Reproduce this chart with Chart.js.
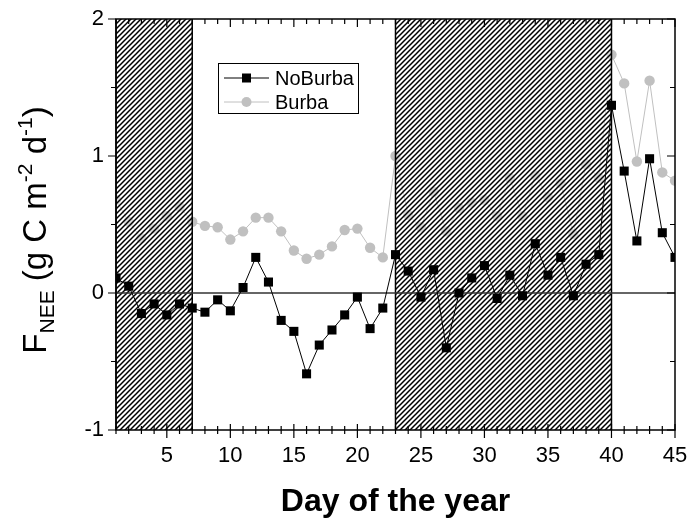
<!DOCTYPE html>
<html>
<head>
<meta charset="utf-8">
<script src="https://cdn.jsdelivr.net/npm/chart.js@4"></script>
<style>
  html,body{margin:0;padding:0;background:#fff;}
  #wrap{width:692px;height:519px;}
</style>
</head>
<body>
<div id="wrap"><canvas id="chart" width="692" height="519"></canvas></div>
<script>
const days = [1,2,3,4,5,6,7,8,9,10,11,12,13,14,15,16,17,18,19,20,21,22,23,24,25,26,27,28,29,30,31,32,33,34,35,36,37,38,39,40,41,42,43,44,45];
const noBurba = [0.11,0.05,-0.15,-0.08,-0.16,-0.08,-0.11,-0.14,-0.05,-0.13,
  0.04,0.26,0.08,-0.20,-0.28,-0.59,-0.38,-0.27,-0.16,-0.03,
  -0.26,-0.11,0.28,0.16,-0.03,0.17,-0.40,0.00,0.11,0.20,
  -0.04,0.13,-0.02,0.36,0.13,0.26,-0.02,0.21,0.28,1.37,
  0.89,0.38,0.98,0.44,0.26];
const burba = [0.68,0.52,0.40,0.47,0.56,0.63,0.52,0.49,0.48,0.39,
  0.45,0.55,0.55,0.45,0.31,0.25,0.28,0.34,0.46,0.47,
  0.33,0.26,1.00,0.57,0.48,0.74,0.45,0.62,0.66,0.68,
  0.56,0.84,0.56,0.86,0.70,0.80,0.43,0.94,0.84,1.74,
  1.53,0.96,1.55,0.88,0.82];
const xTicks = [5,10,15,20,25,30,35,40,45];
const yTicks = [-1,0,1,2];
const shadeFrom = [1,23];
const shadeTo = [7,40];

const FONT = "Arial, 'Liberation Sans', sans-serif";

// diagonal hatch pattern
function makeHatch(ctx){
  const s = 5;
  const c = document.createElement('canvas');
  c.width = s; c.height = s;
  const g = c.getContext('2d');
  g.fillStyle = 'rgba(255,255,255,0.4)';
  g.fillRect(0,0,s,s);
  g.strokeStyle = '#000';
  g.lineWidth = 1.5;
  g.beginPath();
  g.moveTo(-1, s+1); g.lineTo(s+1, -1);
  g.moveTo(-1, 1); g.lineTo(1, -1);
  g.moveTo(s-1, s+1); g.lineTo(s+1, s-1);
  g.stroke();
  return ctx.createPattern(c, 'repeat');
}

const decor = {
  id: 'decor',
  beforeDatasetDraw(chart, args){
    if(args.index !== 0) return;
    const {ctx, chartArea: a, scales: {x, y}} = chart;
    ctx.save();
    const pat = makeHatch(ctx);
    shadeFrom.forEach((f, i) => {
      const x0 = x.getPixelForValue(f), x1 = x.getPixelForValue(shadeTo[i]);
      ctx.fillStyle = pat;
      ctx.fillRect(x0, a.top, x1 - x0, a.bottom - a.top);
      ctx.strokeStyle = '#000';
      ctx.lineWidth = 1.5;
      ctx.beginPath();
      ctx.moveTo(x0, a.top); ctx.lineTo(x0, a.bottom);
      ctx.moveTo(x1, a.top); ctx.lineTo(x1, a.bottom);
      ctx.stroke();
    });
    const y0 = y.getPixelForValue(0);
    ctx.strokeStyle = '#333';
    ctx.lineWidth = 1.5;
    ctx.beginPath();
    ctx.moveTo(a.left, y0); ctx.lineTo(a.right, y0);
    ctx.stroke();
    ctx.restore();
  },
  afterDraw(chart){
    const {ctx, chartArea: a, scales: {x, y}} = chart;
    ctx.save();
    ctx.strokeStyle = '#000';
    ctx.lineWidth = 1.5;
    ctx.strokeRect(a.left, a.top, a.right - a.left, a.bottom - a.top);

    // x ticks (bottom crossing, top inward)
    ctx.lineWidth = 1.2;
    ctx.beginPath();
    for(let d = 1; d <= 45; d++){
      const px = x.getPixelForValue(d);
      const major = d % 5 === 0;
      ctx.moveTo(px, a.bottom - (major ? 6 : 4));
      ctx.lineTo(px, a.bottom + (major ? 8 : 4));
      ctx.moveTo(px, a.top);
      ctx.lineTo(px, a.top + (major ? 8 : 5));
    }
    // y ticks (left outward, right inward)
    for(let v = -1; v <= 2.001; v += 0.5){
      const py = y.getPixelForValue(v);
      const major = Math.abs(v - Math.round(v)) < 1e-6;
      ctx.moveTo(a.left - (major ? 8 : 5), py);
      ctx.lineTo(a.left, py);
      ctx.moveTo(a.right, py);
      ctx.lineTo(a.right - (major ? 8 : 5), py);
    }
    ctx.stroke();

    // legend
    const lx = 218, ly = 63, lw = 140, lh = 50;
    ctx.fillStyle = '#fff';
    ctx.fillRect(lx, ly, lw, lh);
    ctx.lineWidth = 1;
    ctx.strokeStyle = '#000';
    ctx.strokeRect(lx + 0.5, ly + 0.5, lw, lh);
    const rows = [
      {label: 'NoBurba', color: '#000', y: 78, rect: true},
      {label: 'Burba', color: '#c0c0c0', y: 102, rect: false}
    ];
    rows.forEach(r => {
      ctx.strokeStyle = r.color;
      ctx.lineWidth = 1;
      ctx.beginPath();
      ctx.moveTo(224, r.y); ctx.lineTo(269, r.y);
      ctx.stroke();
      ctx.fillStyle = r.color;
      if(r.rect) ctx.fillRect(242, r.y - 4.5, 9, 9);
      else { ctx.beginPath(); ctx.arc(246.5, r.y, 5, 0, Math.PI*2); ctx.fill(); }
      ctx.fillStyle = '#000';
      ctx.font = '20px ' + FONT;
      ctx.textBaseline = 'middle';
      ctx.textAlign = 'left';
      ctx.fillText(r.label, 275, r.y + 1);
    });

    // x title
    ctx.fillStyle = '#000';
    ctx.font = 'bold 32px ' + FONT;
    ctx.textAlign = 'center';
    ctx.textBaseline = 'alphabetic';
    ctx.fillText('Day of the year', (a.left + a.right) / 2, 511);

    // y title with sub/superscripts
    const parts = [
      {t: 'F', s: 33, dy: 0},
      {t: 'NEE', s: 21, dy: 8},
      {t: ' (g C m', s: 33, dy: 0},
      {t: '-2', s: 21, dy: -14},
      {t: ' d', s: 33, dy: 0},
      {t: '-1', s: 21, dy: -14},
      {t: ')', s: 33, dy: 0}
    ];
    let total = 0;
    parts.forEach(p => { ctx.font = p.s + 'px ' + FONT; p.w = ctx.measureText(p.t).width; total += p.w; });
    ctx.translate(46, 230);
    ctx.rotate(-Math.PI / 2);
    ctx.textAlign = 'left';
    let cx = -total / 2;
    parts.forEach(p => {
      ctx.font = p.s + 'px ' + FONT;
      ctx.fillText(p.t, cx, p.dy);
      cx += p.w;
    });
    ctx.restore();
  }
};

new Chart(document.getElementById('chart'), {
  type: 'scatter',
  data: {
    datasets: [
      {
        label: 'NoBurba',
        data: days.map((d, i) => ({x: d, y: noBurba[i]})),
        showLine: true,
        borderColor: '#000',
        backgroundColor: '#000',
        borderWidth: 1,
        pointStyle: 'rect',
        pointRadius: 6.4,
        pointBorderWidth: 0
      },
      {
        label: 'Burba',
        data: days.map((d, i) => ({x: d, y: burba[i]})),
        showLine: true,
        borderColor: '#c0c0c0',
        backgroundColor: '#c0c0c0',
        borderWidth: 1,
        pointStyle: 'circle',
        pointRadius: 5.2,
        pointBorderWidth: 0
      }
    ]
  },
  options: {
    responsive: false,
    animation: false,
    layout: {padding: {left: 0, top: 19, right: 17, bottom: 0}},
    plugins: {legend: {display: false}, tooltip: {enabled: false}},
    scales: {
      x: {
        type: 'linear', min: 1, max: 45,
        grid: {display: false, drawTicks: false},
        border: {display: false},
        afterBuildTicks: s => { s.ticks = xTicks.map(v => ({value: v})); },
        afterFit: s => { s.height = 89; s.paddingLeft = 0; s.paddingRight = 0; },
        ticks: {color: '#000', font: {size: 22, family: FONT}, padding: 13, maxRotation: 0}
      },
      y: {
        min: -1, max: 2,
        grid: {display: false, drawTicks: false},
        border: {display: false},
        afterBuildTicks: s => { s.ticks = yTicks.map(v => ({value: v})); },
        afterFit: s => { s.width = 116; s.paddingTop = 0; s.paddingBottom = 0; },
        ticks: {color: '#000', font: {size: 22, family: FONT}, padding: 12}
      }
    }
  },
  plugins: [decor]
});
</script>
</body>
</html>
